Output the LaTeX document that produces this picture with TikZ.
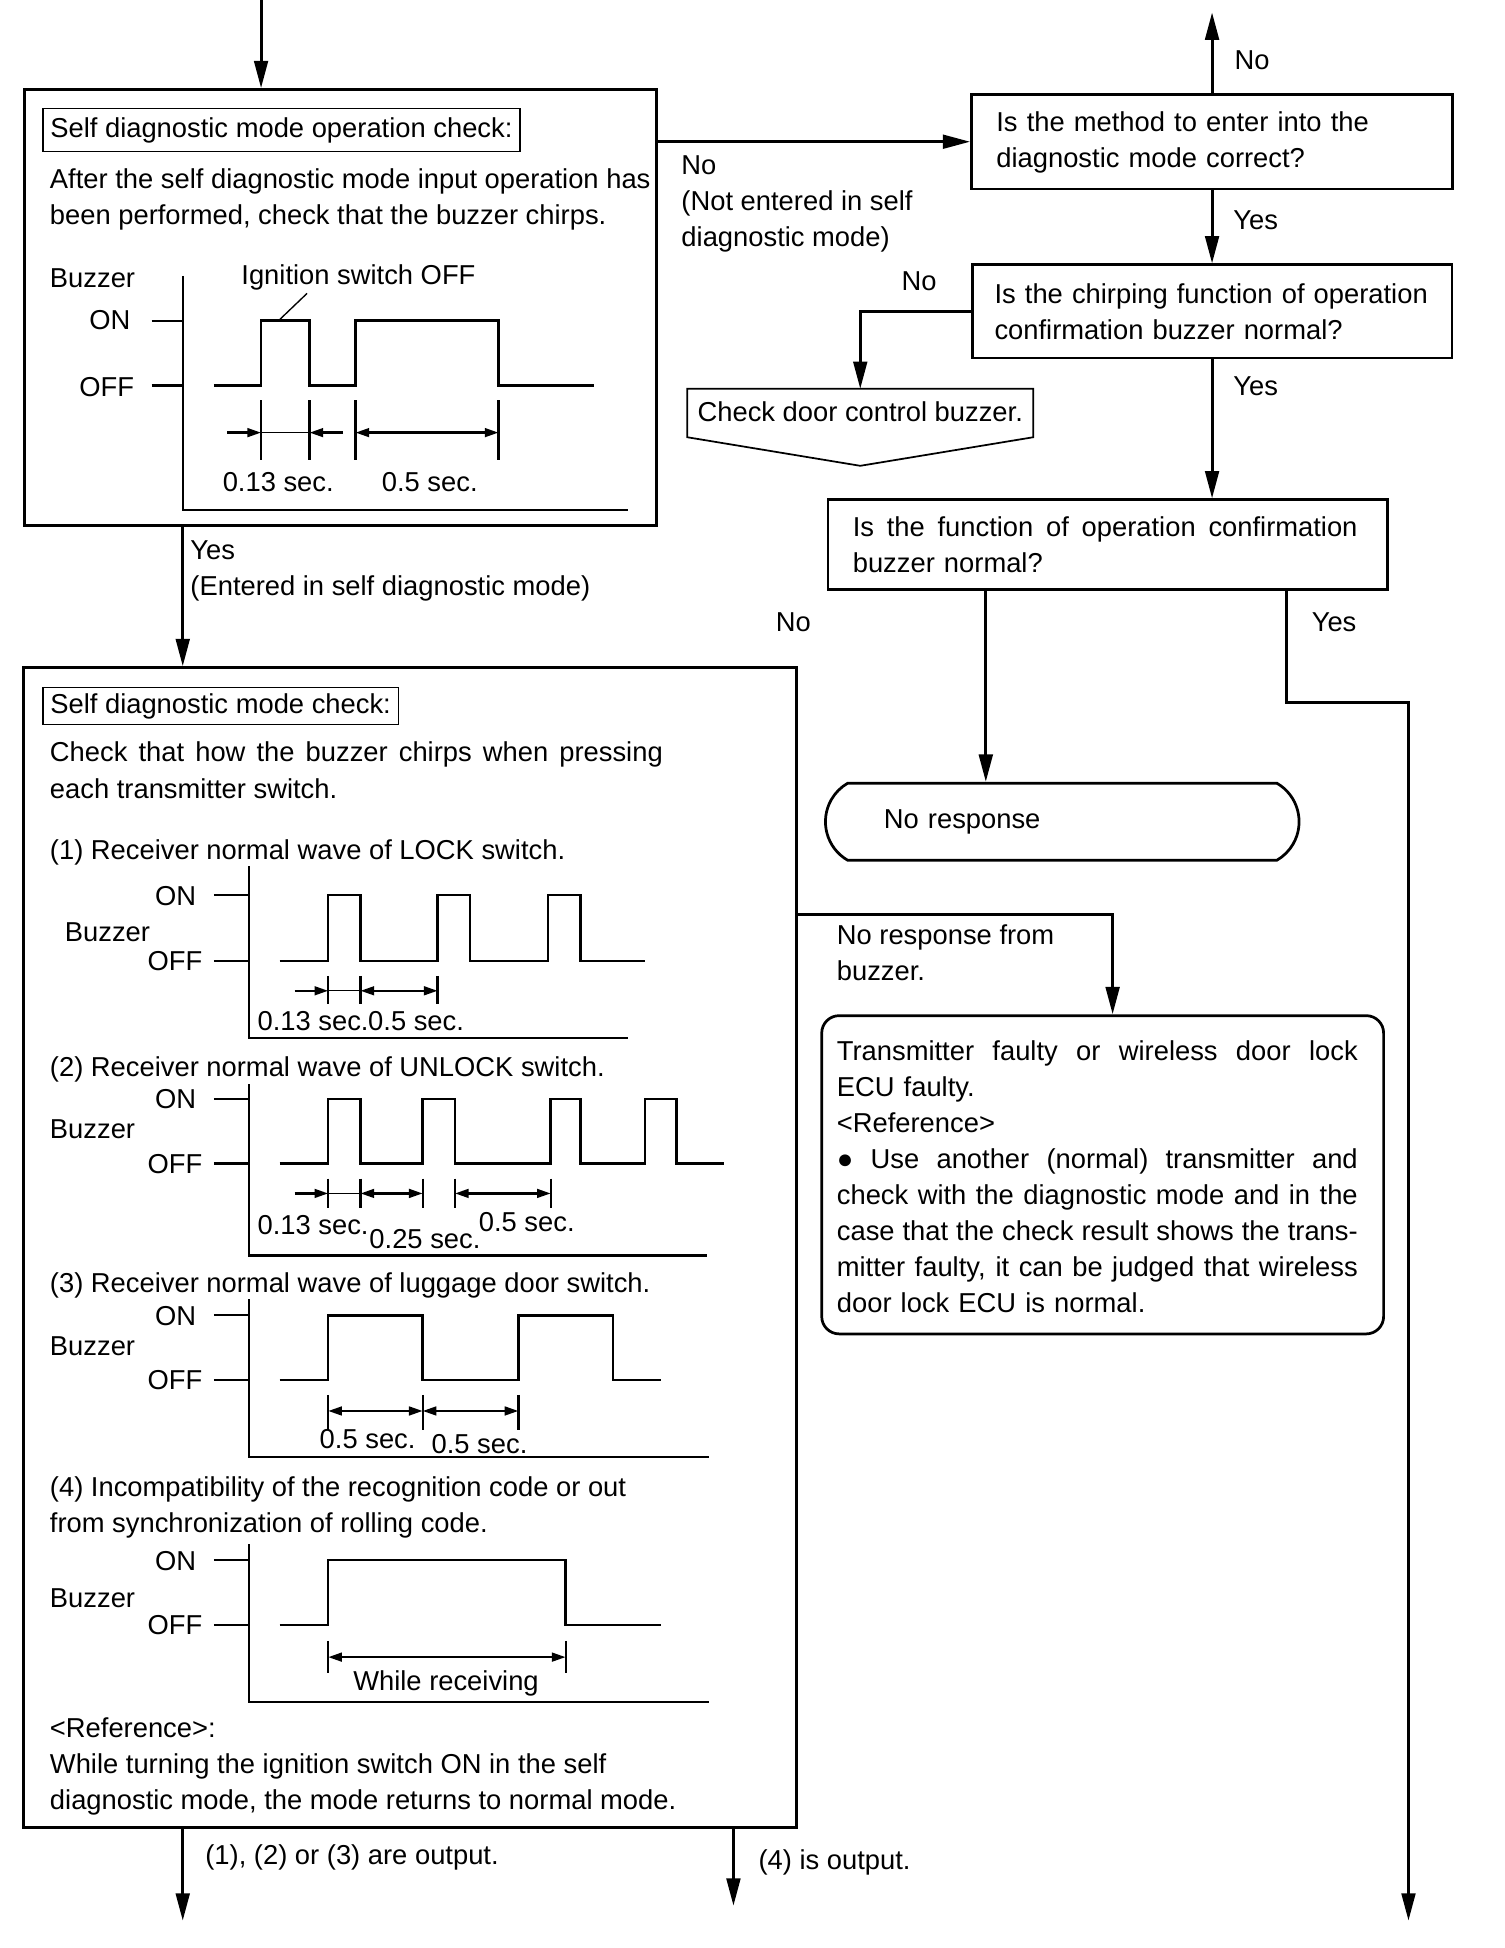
\documentclass[tikz,border=0pt]{standalone}
\usepackage{fontspec}
\setmainfont{Liberation Sans}
\usetikzlibrary{arrows.meta, positioning, shapes.misc, calc}

\newcommand\fstrut{\rule{0pt}{17pt}}
% a line set to a given width, spaces stretched
\newcommand\jline[2]{\makebox[#1][s]{\spaceskip=0pt\xspaceskip=0pt #2}}

\begin{document}
\begin{tikzpicture}[
  x=1pt, y=-1pt,
  every node/.style = {font=\fontsize{22}{29}\selectfont, inner sep=0pt},
  frame/.style = {draw, line width=2.2pt},
  decision/.style = {frame, align=left, execute at begin node=\fstrut},
  titlebox/.style = {draw, line width=1pt, anchor=west, inner xsep=6pt, minimum height=#1, text height=15.6pt, text depth=4pt},
  txt/.style = {anchor=north west, yshift=9.2pt, align=left, execute at begin node=\fstrut},
  rtxt/.style = {anchor=north east, yshift=9.2pt, align=right, execute at begin node=\fstrut},
  flow/.style = {line width=2.4pt, -{Triangle[length=22pt, width=11pt]}},
  wave/.style = {line width=2pt},
  axis/.style = {line width=1.8pt},
  dimline/.style = {line width=1.1pt},
  dim/.style = {line width=1.9pt, -{Triangle[length=11pt, width=7pt]}},
  dimboth/.style = {line width=1.9pt, {Triangle[length=11pt, width=7pt]}-{Triangle[length=11pt, width=7pt]}}
]
\useasboundingbox (0,0) rectangle (1210,1567);

% Frames
\node[frame, minimum width=508pt, minimum height=351pt] (opcheck) at (274,247.5) {};
\node[frame, minimum width=622pt, minimum height=933pt] (modecheck) at (330,1003.5) {};
\node[decision, text width=347pt, minimum width=387pt, minimum height=76pt] (method) at (975,114)
  {Is the method to enter into the\\diagnostic mode correct?};
\node[decision, text width=350pt, minimum width=386pt, minimum height=75pt] (chirp) at (975,250.5)
  {Is the chirping function of operation\\confirmation buzzer normal?};
\node[decision, text width=410pt, minimum width=450pt, minimum height=72pt] (func) at (891,438)
  {\jline{406pt}{Is the function of operation confirmation}\\buzzer normal?};
\node[minimum width=278pt, minimum height=37pt, text height=15.6pt, text depth=4pt] (doorbuzz) at (692,333)
  {Check door control buzzer.};
\draw[line width=1.4pt] ([yshift=1.5pt]doorbuzz.north west) -- ([yshift=1.5pt]doorbuzz.north east) -- (doorbuzz.south east)
  -- ([yshift=-23pt]doorbuzz.south) -- (doorbuzz.south west) -- cycle;
\node[frame, rounded rectangle, rounded rectangle arc length=120, minimum width=381pt, minimum height=62pt,
  text width=287pt, align=left, text height=15.6pt, text depth=4pt] (noresp) at (854.5,661) {No response};
\node[frame, rounded corners=14pt, minimum width=452pt, minimum height=256pt] (faulty) at (887,945) {};

% Input and first check
\coordinate (topin) at (210,0);
\draw[flow] (topin) -- (topin |- opcheck.north);
\node[titlebox=35pt] (optitle) at (34,104.5) {Self diagnostic mode operation check:};
\node[txt] (opintro) at (40,145) {After the self diagnostic mode input operation has\\been performed, check that the buzzer chirps.};
\node[txt] (opbuzz) at (40,223) {Buzzer};
\node[rtxt] (opon) at (105,257) {ON};
\node[rtxt] (opoff) at (108,311) {OFF};
\draw[axis] (147,222) -- (147,410) -- (505,410);
\draw[axis] (122,258) -- (147,258);
\draw[axis] (122,310) -- (147,310);
\draw[wave] (172,310) -- (210,310) -- (210,258) -- (249,258) -- (249,310) -- (286,310)
  -- (286,258) -- (401,258) -- (401,310) -- (478,310);
\node[txt] (ignlbl) at (194,221) {Ignition switch OFF};
\draw[dimline] (224,258) -- (247,236);
\foreach \x in {210,249,286,401} \draw[axis] (\x,322) -- (\x,370);
\draw[dim] (183,348) -- (210,348);
\draw[dimline] (210,348) -- (249,348);
\draw[dim] (276,348) -- (249,348);
\draw[dimboth] (286,348) -- (401,348);
\node[txt] (optshort) at (179,387) {0.13 sec.};
\node[txt] (optlong) at (307,387) {0.5 sec.};

% Not entered
\draw[flow] (opcheck.east |- method.west) -- (method.west);
\node[txt] (notentered) at (548,134) {No\\(Not entered in self\\diagnostic mode)};

% Right column
\coordinate (retry) at (975,10);
\draw[flow] (method.north) -- (retry);
\node[txt] (retryno) at (993,48) {No};
\draw[flow] (method.south) -- (chirp.north);
\node[txt] (methodyes) at (992,177) {Yes};
\draw[flow] (chirp.west) -| ([yshift=1.5pt]doorbuzz.north);
\node[txt] (chirpno) at (725,226) {No};
\draw[flow] (chirp.south) -- (chirp.south |- func.north);
\node[txt] (chirpyes) at (992,310) {Yes};
\coordinate (nox) at (793,0);
\draw[flow] (func.south -| nox) -- (noresp.north -| nox);
\node[txt] (funcno) at (624,500) {No};
\coordinate (yesbend) at (1035,565);
\coordinate (yesout) at (1133,1545);
\draw[flow] (func.south -| yesbend) -- (yesbend) -| (yesout);
\node[txt] (funcyes) at (1055,500) {Yes};

% Entered
\coordinate (yesx) at (147,0);
\draw[flow] (opcheck.south -| yesx) -- (modecheck.north -| yesx);
\node[txt] (entered) at (153,444) {Yes\\(Entered in self diagnostic mode)};

% Mode check contents
\node[titlebox=30pt] (mctitle) at (34,568) {Self diagnostic mode check:};
\node[txt] (mcintro) at (40,606) {\jline{493pt}{Check that how the buzzer chirps when pressing}\\each transmitter switch.};
\node[txt] (lockhd) at (40,683) {(1) Receiver normal wave of LOCK switch.};
\node[txt] (unlockhd) at (40,858) {(2) Receiver normal wave of UNLOCK switch.};
\node[txt] (luggagehd) at (40,1032) {(3) Receiver normal wave of luggage door switch.};
\node[txt] (codehd) at (40,1197) {(4) Incompatibility of the recognition code or out\\from synchronization of rolling code.};
\node[txt] (mcref) at (40,1391) {<Reference>:\\While turning the ignition switch ON in the self\\diagnostic mode, the mode returns to normal mode.};

\foreach \yon/\yoff/\ytop/\ybot/\xend in {720/773/697/835/505, 884/936/872/1010/569,
    1058/1110/1045/1172/570, 1255/1307/1242/1369/570} {
  \draw[axis] (200,\ytop) -- (200,\ybot) -- (\xend,\ybot);
  \draw[axis] (172,\yon) -- (200,\yon);
  \draw[axis] (172,\yoff) -- (200,\yoff);
  \node[rtxt] (on\yon) at (158,\yon) {ON};
  \node[rtxt] (off\yoff) at (163,\yoff) {OFF};
}
\node[txt] (buzz1) at (52,749) {Buzzer};
\node[txt] (buzz2) at (40,908) {Buzzer};
\node[txt] (buzz3) at (40,1082) {Buzzer};
\node[txt] (buzz4) at (40,1285) {Buzzer};

% (1) LOCK
\draw[wave] (225,773) foreach \a/\b in {264/290, 352/378, 441/467}
  { -- (\a,773) -- (\a,720) -- (\b,720) -- (\b,773) } -- (519,773);
\foreach \x in {264,290,352} \draw[axis] (\x,785) -- (\x,808);
\draw[dim] (237,797) -- (264,797);
\draw[dimline] (264,797) -- (290,797);
\draw[dimboth] (290,797) -- (352,797);
\node[txt] (lockshort) at (207,821) {0.13 sec.};
\node[txt] (locklong) at (296,821) {0.5 sec.};

% (2) UNLOCK
\draw[wave] (225,936) foreach \a/\b in {264/290, 340/366, 443/467, 519/544}
  { -- (\a,936) -- (\a,884) -- (\b,884) -- (\b,936) } -- (582,936);
\foreach \x in {264,290,340,366,443} \draw[axis] (\x,948) -- (\x,972);
\draw[dim] (237,960) -- (264,960);
\draw[dimline] (264,960) -- (290,960);
\draw[dimboth] (290,960) -- (340,960);
\draw[dimboth] (366,960) -- (443,960);
\node[txt] (unlockshort) at (207,985) {0.13 sec.};
\node[txt] (unlockmid) at (297,996) {0.25 sec.};
\node[txt] (unlocklong) at (385,983) {0.5 sec.};

% (3) luggage door
\draw[wave] (225,1110) foreach \a/\b in {264/340, 417/493}
  { -- (\a,1110) -- (\a,1058) -- (\b,1058) -- (\b,1110) } -- (532,1110);
\foreach \x in {264,340,417} \draw[axis] (\x,1122) -- (\x,1150);
\draw[dimboth] (264,1135) -- (340,1135);
\draw[dimboth] (340,1135) -- (417,1135);
\node[txt] (luggageon) at (257,1157) {0.5 sec.};
\node[txt] (luggageoff) at (347,1161) {0.5 sec.};

% (4) code
\draw[wave] (225,1307) -- (264,1307) -- (264,1255) -- (455,1255) -- (455,1307) -- (532,1307);
\foreach \x in {264,455} \draw[axis] (\x,1320) -- (\x,1346);
\draw[dimboth] (264,1333) -- (455,1333);
\node[txt] (receiving) at (284,1352) {While receiving};

% No response from buzzer
\coordinate (nrbend) at (895,736);
\draw[flow] (modecheck.east |- nrbend) -- (nrbend) -- (faulty.north -| nrbend);
\node[txt] (nrlbl) at (673,753) {No response from\\buzzer.};
\node[txt, text width=419pt] (faultytxt) at (673,845) {%
  \jline{419pt}{Transmitter faulty or wireless door lock}\\
  ECU faulty.\\
  <Reference>\\
  \jline{419pt}{● Use another (normal) transmitter and}\\
  \jline{419pt}{check with the diagnostic mode and in the}\\
  \jline{419pt}{case that the check result shows the trans-}\\
  \jline{419pt}{mitter faulty, it can be judged that wireless}\\
  door lock ECU is normal.};

% Outputs
\coordinate (out123) at (147,1545);
\coordinate (out4) at (590,1533);
\draw[flow] (modecheck.south -| out123) -- (out123);
\draw[flow] (modecheck.south -| out4) -- (out4);
\node[txt] (out123lbl) at (165,1492) {(1), (2) or (3) are output.};
\node[txt] (out4lbl) at (610,1496) {(4) is output.};

\end{tikzpicture}
\end{document}
